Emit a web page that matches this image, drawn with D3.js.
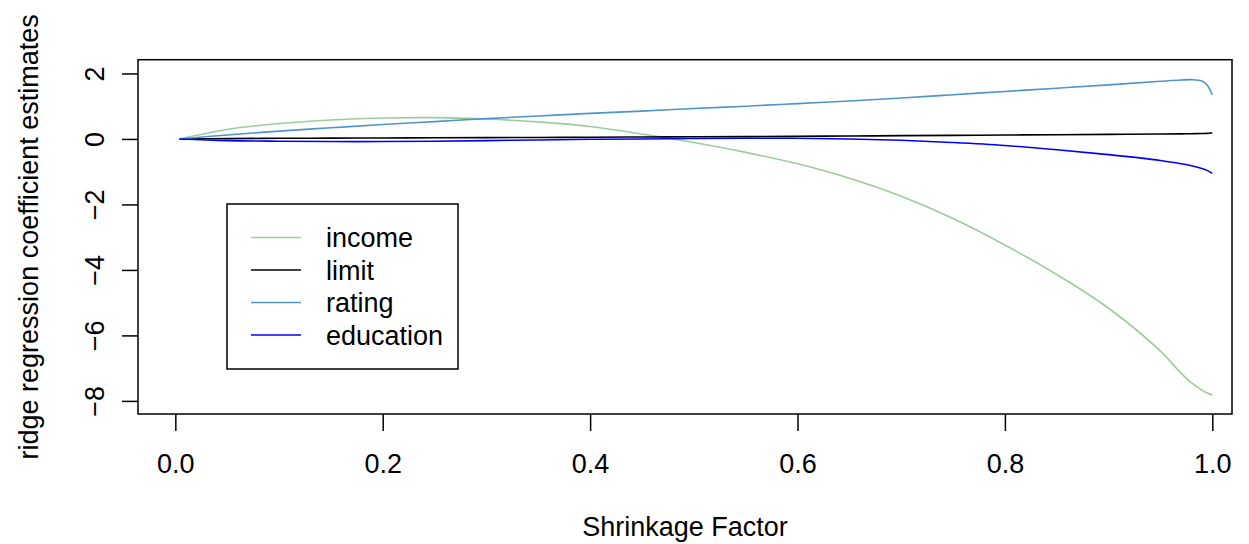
<!DOCTYPE html>
<html>
<head>
<meta charset="utf-8">
<script src="https://cdn.jsdelivr.net/npm/d3@7"></script>
<style>
  body { margin: 0; background: #fff; }
  svg { display: block; font-family: "Liberation Sans", Arial, sans-serif; }
</style>
</head>
<body>
<svg></svg>
<script>
// DATA
const shrinkage = [0.004, 0.05, 0.1, 0.15, 0.2, 0.25, 0.3, 0.35, 0.4, 0.45, 0.5, 0.55, 0.6,
  0.65, 0.7, 0.75, 0.8, 0.85, 0.9, 0.95, 0.97, 0.98, 0.99, 0.995, 1.0];
const income = [0, 0.29, 0.47, 0.58, 0.64, 0.65, 0.61, 0.52, 0.38, 0.15, -0.11, -0.41, -0.76,
  -1.2, -1.75, -2.43, -3.24, -4.14, -5.17, -6.48, -7.16, -7.45, -7.67, -7.76, -7.82];
const limit = [0, 0.01, 0.02, 0.025, 0.03, 0.035, 0.04, 0.045, 0.05, 0.06, 0.065, 0.07, 0.08,
  0.09, 0.10, 0.11, 0.12, 0.13, 0.14, 0.15, 0.155, 0.16, 0.165, 0.17, 0.19];
const rating = [0, 0.12, 0.24, 0.34, 0.44, 0.53, 0.62, 0.70, 0.78, 0.85, 0.93, 1.00, 1.08,
  1.16, 1.25, 1.35, 1.45, 1.55, 1.65, 1.76, 1.80, 1.81, 1.77, 1.65, 1.35];
const education = [0, -0.05, -0.07, -0.08, -0.08, -0.07, -0.05, -0.03, -0.01, 0.0, 0.015, 0.02, 0.02,
  0.0, -0.04, -0.11, -0.2, -0.33, -0.48, -0.66, -0.76, -0.82, -0.9, -0.96, -1.05];

const seriesNames = ['income', 'limit', 'rating', 'education'];
const seriesValues = [income, limit, rating, education];
const seriesColors = ['#9BCD9B', '#000000', '#4F94CD', '#0000FF'];

const xTicks = [0, 0.2, 0.4, 0.6, 0.8, 1.0];
const yTicks = [-8, -6, -4, -2, 0, 2];

const width = 1249;
const height = 544;
const fontSize = 27;

const svg = d3.select('svg')
  .attr('width', width)
  .attr('height', height);

// SCALES
const x = d3.scaleLinear().domain([-0.036, 1.019]).range([138, 1232]);
const y = d3.scaleLinear().domain([-8.4, 2.42]).range([414, 59.7]);

const fmtY = d => d < 0 ? '\u2212' + Math.abs(d) : String(d);

// PLOT BOX
svg.append('rect')
  .attr('x', x.range()[0])
  .attr('y', y.range()[1])
  .attr('width', x.range()[1] - x.range()[0])
  .attr('height', y.range()[0] - y.range()[1])
  .attr('fill', 'none')
  .attr('stroke', '#000')
  .attr('stroke-width', 1.5);

// X AXIS
const xAxis = svg.append('g')
  .attr('transform', `translate(0,${y.range()[0]})`)
  .call(d3.axisBottom(x).tickValues(xTicks).tickSize(17).tickFormat(d3.format('.1f')));

// Y AXIS
const yAxis = svg.append('g')
  .attr('transform', `translate(${x.range()[0]},0)`)
  .call(d3.axisLeft(y).tickValues(yTicks).tickSize(16).tickFormat(fmtY));

[xAxis, yAxis].forEach(g => {
  g.select('.domain').remove();
  g.selectAll('.tick line').attr('stroke', '#000').attr('stroke-width', 1.5);
  g.selectAll('.tick text').attr('fill', '#000').attr('font-size', fontSize)
    .attr('font-family', '"Liberation Sans", Arial, sans-serif');
});

xAxis.selectAll('.tick text').attr('dy', null).attr('y', 59);

yAxis.selectAll('.tick text')
  .attr('x', null).attr('dy', null)
  .attr('text-anchor', 'middle')
  .attr('transform', 'translate(-34,0) rotate(-90)');

// AXIS TITLES
svg.append('text')
  .attr('x', (x.range()[0] + x.range()[1]) / 2)
  .attr('y', 536)
  .attr('text-anchor', 'middle')
  .attr('font-size', fontSize)
  .text('Shrinkage Factor');

svg.append('text')
  .attr('transform', `translate(38,${(y.range()[0] + y.range()[1]) / 2}) rotate(-90)`)
  .attr('text-anchor', 'middle')
  .attr('font-size', fontSize)
  .text('ridge regression coefficient estimates');

// LINES
const line = d3.line()
  .x(d => x(d[0]))
  .y(d => y(d[1]))
  .curve(d3.curveCatmullRom.alpha(0.5));

svg.append('g')
  .selectAll('path')
  .data(seriesValues)
  .enter().append('path')
  .attr('d', vals => line(shrinkage.map((s, i) => [s, vals[i]])))
  .attr('fill', 'none')
  .attr('stroke', (d, i) => seriesColors[i])
  .attr('stroke-width', 1.6);

// LEGEND
const legend = svg.append('g');
legend.append('rect')
  .attr('x', 227).attr('y', 204)
  .attr('width', 231).attr('height', 165)
  .attr('fill', '#fff')
  .attr('stroke', '#000')
  .attr('stroke-width', 1.5);

const legendRows = legend.selectAll('g')
  .data(seriesNames)
  .enter().append('g')
  .attr('transform', (d, i) => `translate(0,${237.5 + i * 32.5})`);

legendRows.append('line')
  .attr('x1', 251).attr('x2', 301)
  .attr('stroke', (d, i) => seriesColors[i])
  .attr('stroke-width', 1.6);

legendRows.append('text')
  .attr('x', 326)
  .attr('dy', '0.36em')
  .attr('font-size', fontSize)
  .text(d => d);
</script>
</body>
</html>
